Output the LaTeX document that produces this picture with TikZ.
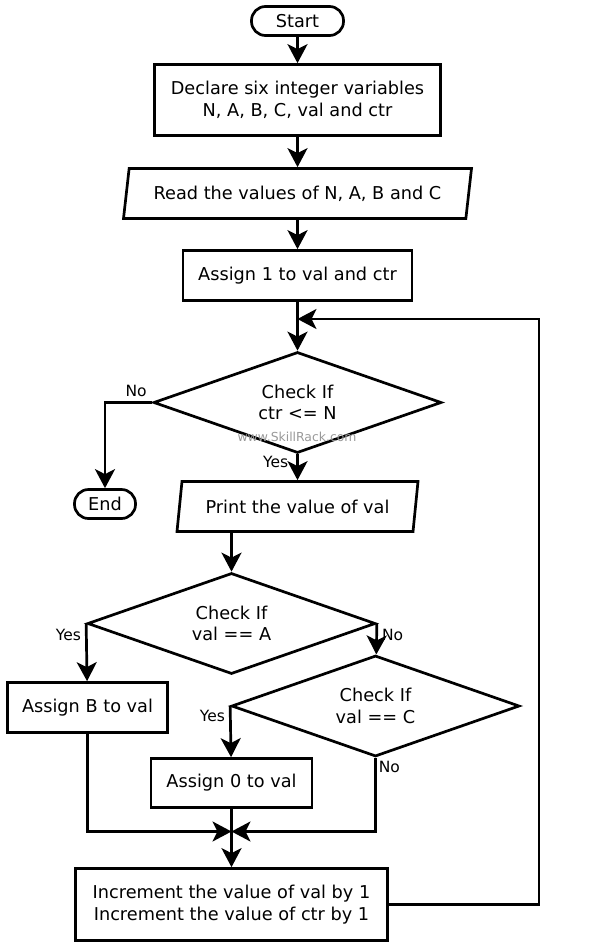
\documentclass[tikz,border=0pt]{standalone}
\usepackage{fontspec}
\setmainfont{DejaVu Sans}
\usetikzlibrary{shapes.geometric,arrows.meta}
\begin{document}
\begin{tikzpicture}[x=1pt, y=-1pt, line width=2.7pt, font=\fontsize{17.7}{21.7}\selectfont,
    box/.style={rectangle, draw, align=center, inner sep=0pt},
    term/.style={rectangle, draw, rounded corners=14pt, inner sep=0pt},
    io/.style={trapezium, draw, trapezium left angle=70, trapezium right angle=110, trapezium stretches body, inner sep=0pt, minimum height=50pt},
    dec/.style={diamond, draw, align=center, inner sep=0pt, aspect=2.85, minimum width=288pt, minimum height=101pt},
    lbl/.style={font=\fontsize{15.5}{18}\selectfont, inner sep=4pt},
    ar/.style={-{Stealth[length=19pt, width=20pt, inset=5pt]}}]
          \useasboundingbox (0,0) rectangle (594,948);
          \node[term, minimum width=92pt, minimum height=29pt] (1) at (297.5,21) {Start};
          \node[box, minimum width=286pt, minimum height=71pt] (2) at (297.5,100) {Declare six integer variables\\N, A, B, C, val and ctr};
          \node[io, minimum width=348pt] (3) at (297.5,193.5) {Read the values of N, A, B and C};
          \node[box, minimum width=229pt, minimum height=50pt] (4) at (297.5,275.5) {Assign 1 to val and ctr};
          \node[dec] (5) at (297.5,402.5) {Check If\\ctr <= N};
          \node[font=\fontsize{12.4}{14}\selectfont, text=black!40] (w) at (297,437) {www.SkillRack.com};
          \node[term, minimum width=61pt, minimum height=29pt] (6) at (105,504) {End};
          \node[io, minimum width=241pt] (7) at (297.5,506.5) {Print the value of val};
          \node[dec] (8) at (231.5,623.5) {Check If\\val == A};
          \node[box, minimum width=160pt, minimum height=50pt] (9) at (87.5,707.5) {Assign B to val};
          \node[dec] (10) at (375.5,706) {Check If\\val == C};
          \node[box, minimum width=161pt, minimum height=49pt] (11) at (231.5,783) {Assign 0 to val};
          \node[box, minimum width=312pt, minimum height=72pt] (12) at (231.5,904.5) {Increment the value of val by 1\\Increment the value of ctr by 1};
          \coordinate (m) at (231.5,831.5);
          \coordinate (c) at (539,319);
          \coordinate (j) at (297.5,319);

          \draw[ar] (1) -- (2);
          \draw[ar] (2) -- (3);
          \draw[ar] (3) -- (4);
          \draw[ar] (4) -- (5);
          \draw[ar] (5.west) -| node[lbl, above, pos=0.17] {No} (6);
          \draw[ar] (5) -- node[lbl, left, pos=0.3, xshift=-4pt] {Yes} (7);
          \draw[ar] (7.south -| 8.north) -- (8);
          \draw[ar] (8.west) -- node[lbl, left, pos=0.2] {Yes} (9);
          \draw[ar] (8.east) -- node[lbl, right, pos=0.36] {No} (10);
          \draw[ar] (10.west) -- node[lbl, left, pos=0.2] {Yes} (11);
          \draw[ar] (10.south) node[lbl, below right, inner sep=2pt] {No} |- (m);
          \draw[ar] (9) |- (m);
          \draw[ar] (11) -- (12);
          \draw[ar] (12.east) -| (c) -- (j);
        \end{tikzpicture}
\end{document}
